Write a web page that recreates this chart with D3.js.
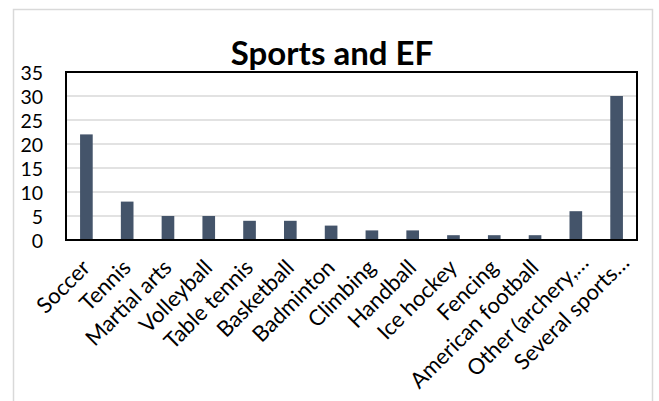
<!DOCTYPE html>
<html><head><meta charset="utf-8">
<script src="https://cdn.jsdelivr.net/npm/d3@7"></script>
<style>body{margin:0;background:#fff}svg{display:block}</style>
</head><body>
<script>
const categories = ["Soccer","Tennis","Martial arts","Volleyball","Table tennis","Basketball","Badminton","Climbing","Handball","Ice hockey","Fencing","American football","Other (archery,…","Several sports…"];
const values = [22,8,5,5,4,4,3,2,2,1,1,1,6,30];
const yTicks = [0,5,10,15,20,25,30,35];
const title = "Sports and EF";

const W = 659, H = 401;
const FONT = "Lato, 'Open Sans', sans-serif";
const svg = d3.select("body").append("svg").attr("width", W).attr("height", H);
svg.append("rect").attr("x",13.5).attr("y",9.5).attr("width",639).attr("height",420)
  .attr("fill","#fff").attr("stroke","#d9d9d9").attr("stroke-width",1.5);

const m = {left:66, right:637, top:72, bottom:240};
const x = d3.scaleBand().domain(categories).range([m.left,m.right]).paddingInner(0.69).paddingOuter(0.345);
const y = d3.scaleLinear().domain([0,35]).range([m.bottom,m.top]);

// gridlines
svg.append("g").selectAll("line").data(yTicks.filter(d=>d>0&&d<35)).join("line")
  .attr("x1",m.left).attr("x2",m.right).attr("y1",d=>y(d)).attr("y2",d=>y(d))
  .attr("stroke","#d9d9d9").attr("stroke-width",1.5);

// bars
svg.append("g").selectAll("rect").data(categories).join("rect")
  .attr("x",d=>x(d)).attr("width",x.bandwidth())
  .attr("y",(d,i)=>y(values[i])).attr("height",(d,i)=>y(0)-y(values[i]))
  .attr("fill","#44546a");

// frame
svg.append("rect").attr("x",m.left).attr("y",m.top).attr("width",m.right-m.left).attr("height",m.bottom-m.top)
  .attr("fill","none").attr("stroke","#000").attr("stroke-width",2);

// y axis
const yAxis = svg.append("g").attr("transform",`translate(${m.left-23},0)`)
  .call(d3.axisLeft(y).tickValues(yTicks).tickSize(0).tickPadding(0));
yAxis.select(".domain").remove();
yAxis.selectAll("text").attr("font-family",FONT).attr("font-size",19.5).attr("fill","#000").attr("dy","0.36em");

// x axis
const xAxis = svg.append("g").attr("transform",`translate(0,${m.bottom})`)
  .call(d3.axisBottom(x).tickSize(0).tickPadding(0));
xAxis.select(".domain").remove();
xAxis.selectAll("text")
  .attr("font-family",FONT).attr("font-size",22).attr("fill","#000")
  .attr("text-anchor","end").attr("dy",null).attr("y",0)
  .attr("transform",d => d.endsWith("…") ? "translate(14,24) rotate(-45)" : "translate(5,29) rotate(-45)");

svg.append("text").attr("x",332).attr("y",65).attr("text-anchor","middle")
  .attr("font-family",FONT).attr("font-weight","bold").attr("font-size",33)
  .attr("fill","#000").text(title);
</script>
</body></html>
